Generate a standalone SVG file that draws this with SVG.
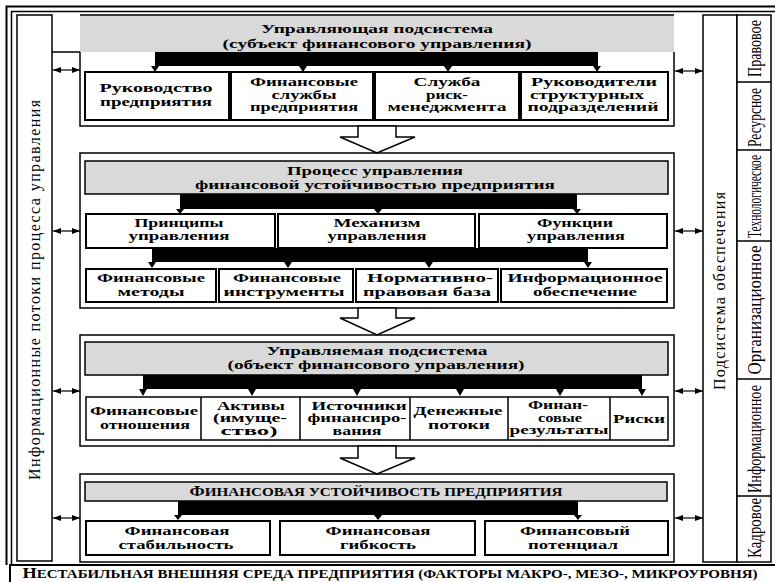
<svg xmlns="http://www.w3.org/2000/svg" width="775" height="582" viewBox="0 0 775 582">
<style>
.t{font-family:"Liberation Serif","Times New Roman",serif;font-weight:bold;font-size:13.5px;text-anchor:middle;fill:#000}
.s{font-size:12.5px}
.v{font-family:"Liberation Serif","Times New Roman",serif;font-size:16px;text-anchor:middle;fill:#000}
.c{font-family:"Liberation Serif","Times New Roman",serif;font-size:18px;text-anchor:middle;fill:#000}
.box{fill:#fff;stroke:#000;stroke-width:2}
.thin{fill:#fff;stroke:#000;stroke-width:1.5}
.hdr{fill:#d9d9d9;stroke:#000;stroke-width:1.5}
.ln{fill:none;stroke:#000;stroke-width:1.5}
.bar{fill:#000}
.side{stroke:#000;stroke-width:1.2;marker-start:url(#ah);marker-end:url(#ah)}
.hol{fill:#fff;stroke:#000;stroke-width:1.5}
</style>
<defs>
<marker id="ah" viewBox="0 0 8 6" refX="8" refY="3" markerWidth="8" markerHeight="6" markerUnits="userSpaceOnUse" orient="auto-start-reverse"><path d="M0,0 L8,3 L0,6 z" fill="#000"/></marker>
</defs>
<rect width="775" height="582" fill="#fff"/>
<path d="M6.5,565 V6.5 H775" fill="none" stroke="#000" stroke-width="2"/>
<path d="M11.5,565 V11.5 H775" fill="none" stroke="#000" stroke-width="1.5"/>

<g id="left-column">
<rect x="17" y="15" width="35" height="546" class="thin"/>
<text class="v" x="40" y="290" transform="rotate(-90 40 290)" textLength="380" lengthAdjust="spacing">Информационные потоки процесса управления</text>
</g>

<g id="right-column">
<rect x="703" y="15" width="34" height="547" class="thin"/>
<text class="v" x="725" y="291" transform="rotate(-90 725 291)" textLength="198" lengthAdjust="spacing">Подсистема обеспечения</text>
</g>

<g id="support-types">
<rect x="737" y="15" width="34" height="547" class="thin"/>
<path d="M737,82 H771 M737,150 H771 M737,241 H771 M737,379 H771 M737,496 H771" class="ln"/>
<text class="c" x="761" y="48.5" transform="rotate(-90 761 48.5)" textLength="57" lengthAdjust="spacingAndGlyphs">Правовое</text>
<text class="c" x="761" y="117.5" transform="rotate(-90 761 117.5)" textLength="59" lengthAdjust="spacingAndGlyphs">Ресурсное</text>
<text class="c" x="761" y="196.5" transform="rotate(-90 761 196.5)" textLength="83" lengthAdjust="spacingAndGlyphs">Технологическое</text>
<text class="c" x="761" y="310" transform="rotate(-90 761 310)" textLength="129" lengthAdjust="spacingAndGlyphs">Организационное</text>
<text class="c" x="761" y="439" transform="rotate(-90 761 439)" textLength="108" lengthAdjust="spacingAndGlyphs">Информационное</text>
<text class="c" x="761" y="528" transform="rotate(-90 761 528)" textLength="60" lengthAdjust="spacingAndGlyphs">Кадровое</text>
</g>

<g id="sec1">
<rect x="80" y="15" width="594" height="37" fill="#d9d9d9"/>
<path d="M80,15 H674 M80,52 V126 H674 V52" class="ln"/>
<text class="t" x="377" y="33" textLength="232" lengthAdjust="spacingAndGlyphs">Управляющая подсистема</text>
<text class="t" x="377" y="47.5" textLength="309" lengthAdjust="spacingAndGlyphs">(субъект финансового управления)</text>
</g>
<g id="s1-box1"><rect x="85" y="72" width="144" height="48" class="box"/>
<text class="t s" x="156" y="91.5" textLength="113" lengthAdjust="spacingAndGlyphs">Руководство</text>
<text class="t s" x="156" y="105.5" textLength="112" lengthAdjust="spacingAndGlyphs">предприятия</text></g>
<g id="s1-box2"><rect x="231" y="72" width="142" height="48" class="box"/>
<text class="t s" x="304" y="86" textLength="108" lengthAdjust="spacingAndGlyphs">Финансовые</text>
<text class="t s" x="304" y="98.5" textLength="65" lengthAdjust="spacingAndGlyphs">службы</text>
<text class="t s" x="304" y="111" textLength="108" lengthAdjust="spacingAndGlyphs">предприятия</text></g>
<g id="s1-box3"><rect x="375" y="72" width="144" height="48" class="box"/>
<text class="t s" x="447" y="86" textLength="67" lengthAdjust="spacingAndGlyphs">Служба</text>
<text class="t s" x="447" y="98.5" textLength="42" lengthAdjust="spacingAndGlyphs">риск-</text>
<text class="t s" x="447" y="111" textLength="119" lengthAdjust="spacingAndGlyphs">менеджмента</text></g>
<g id="s1-box4"><rect x="521" y="72" width="147" height="48" class="box"/>
<text class="t s" x="594" y="86" textLength="126" lengthAdjust="spacingAndGlyphs">Руководители</text>
<text class="t s" x="587" y="98.5" textLength="114" lengthAdjust="spacingAndGlyphs">структурных</text>
<text class="t s" x="593" y="111" textLength="131" lengthAdjust="spacingAndGlyphs">подразделений</text></g>

<g id="sec2">
<rect x="80" y="153" width="594" height="155" class="ln"/>
<rect x="85" y="161" width="583" height="33" class="hdr"/>
<text class="t" x="375" y="175" textLength="176" lengthAdjust="spacingAndGlyphs">Процесс управления</text>
<text class="t" x="375" y="188.5" textLength="360" lengthAdjust="spacingAndGlyphs">финансовой устойчивостью предприятия</text>
</g>
<g id="s2-principles"><rect x="86" y="214" width="189" height="34" class="box"/>
<text class="t" x="179" y="226.5" textLength="89" lengthAdjust="spacingAndGlyphs">Принципы</text>
<text class="t" x="179" y="240" textLength="101" lengthAdjust="spacingAndGlyphs">управления</text></g>
<g id="s2-mechanism"><rect x="278" y="214" width="197" height="34" class="box"/>
<text class="t" x="377" y="226.5" textLength="87" lengthAdjust="spacingAndGlyphs">Механизм</text>
<text class="t" x="377" y="240" textLength="99" lengthAdjust="spacingAndGlyphs">управления</text></g>
<g id="s2-functions"><rect x="479" y="214" width="188" height="34" class="box"/>
<text class="t" x="575" y="226.5" textLength="76" lengthAdjust="spacingAndGlyphs">Функции</text>
<text class="t" x="576" y="240" textLength="98" lengthAdjust="spacingAndGlyphs">управления</text></g>
<g id="s2-methods"><rect x="86" y="269" width="130" height="33" class="box"/>
<text class="t" x="151" y="282" textLength="108" lengthAdjust="spacingAndGlyphs">Финансовые</text>
<text class="t" x="151" y="295.5" textLength="67" lengthAdjust="spacingAndGlyphs">методы</text></g>
<g id="s2-instruments"><rect x="219" y="269" width="134" height="33" class="box"/>
<text class="t" x="287" y="282" textLength="108" lengthAdjust="spacingAndGlyphs">Финансовые</text>
<text class="t" x="284" y="295.5" textLength="121" lengthAdjust="spacingAndGlyphs">инструменты</text></g>
<g id="s2-legal"><rect x="356" y="269" width="142" height="33" class="box"/>
<text class="t" x="430" y="282" textLength="126" lengthAdjust="spacingAndGlyphs">Нормативно-</text>
<text class="t" x="427" y="295.5" textLength="128" lengthAdjust="spacingAndGlyphs">правовая база</text></g>
<g id="s2-info"><rect x="501" y="269" width="166" height="33" class="box"/>
<text class="t" x="585" y="282" textLength="155" lengthAdjust="spacingAndGlyphs">Информационное</text>
<text class="t" x="585" y="295.5" textLength="104" lengthAdjust="spacingAndGlyphs">обеспечение</text></g>

<g id="sec3">
<rect x="80" y="335" width="594" height="111" class="ln"/>
<rect x="85" y="342" width="583" height="33" class="hdr"/>
<text class="t" x="377" y="355" textLength="221" lengthAdjust="spacingAndGlyphs">Управляемая подсистема</text>
<text class="t" x="376" y="369" textLength="297" lengthAdjust="spacingAndGlyphs">(объект финансового управления)</text>
</g>
<g id="s3-row">
<rect x="86" y="397" width="582" height="43" class="thin"/>
<path d="M201,397 V440 M300,397 V440 M410,397 V440 M508,397 V440 M610,397 V440" class="ln"/>
</g>
<g id="s3-relations">
<text class="t s" x="144" y="415" textLength="108" lengthAdjust="spacingAndGlyphs">Финансовые</text>
<text class="t s" x="145" y="428.5" textLength="90" lengthAdjust="spacingAndGlyphs">отношения</text></g>
<g id="s3-assets">
<text class="t s" x="251" y="409.5" textLength="68" lengthAdjust="spacingAndGlyphs">Активы</text>
<text class="t s" x="250" y="422" textLength="74" lengthAdjust="spacingAndGlyphs">(имуще-</text>
<text class="t s" x="249" y="434.5" textLength="57" lengthAdjust="spacingAndGlyphs">ство)</text></g>
<g id="s3-sources">
<text class="t s" x="359" y="409.5" textLength="95" lengthAdjust="spacingAndGlyphs">Источники</text>
<text class="t s" x="357" y="422" textLength="99" lengthAdjust="spacingAndGlyphs">финансиро-</text>
<text class="t s" x="357" y="434.5" textLength="49" lengthAdjust="spacingAndGlyphs">вания</text></g>
<g id="s3-cashflows">
<text class="t s" x="458" y="415" textLength="89" lengthAdjust="spacingAndGlyphs">Денежные</text>
<text class="t s" x="459" y="428.5" textLength="62" lengthAdjust="spacingAndGlyphs">потоки</text></g>
<g id="s3-results">
<text class="t s" x="558" y="409" textLength="60" lengthAdjust="spacingAndGlyphs">Финан-</text>
<text class="t s" x="560" y="421.5" textLength="44" lengthAdjust="spacingAndGlyphs">совые</text>
<text class="t s" x="559" y="434" textLength="99" lengthAdjust="spacingAndGlyphs">результаты</text></g>
<g id="s3-risks">
<text class="t s" x="639" y="422.5" textLength="52" lengthAdjust="spacingAndGlyphs">Риски</text></g>

<g id="sec4">
<rect x="80" y="474" width="594" height="88" class="ln"/>
<rect x="85" y="482" width="582" height="19" class="hdr"/>
<text class="t" x="376" y="495.5" textLength="373" lengthAdjust="spacingAndGlyphs"><tspan font-size="14">Ф</tspan><tspan font-size="12">ИНАНСОВАЯ УСТОЙЧИВОСТЬ ПРЕДПРИЯТИЯ</tspan></text>
</g>
<g id="s4-stability"><rect x="86" y="521" width="184" height="34" class="box"/>
<text class="t" x="177" y="535" textLength="105" lengthAdjust="spacingAndGlyphs">Финансовая</text>
<text class="t" x="176" y="549" textLength="115" lengthAdjust="spacingAndGlyphs">стабильность</text></g>
<g id="s4-flexibility"><rect x="280" y="521" width="195" height="34" class="box"/>
<text class="t" x="378" y="535" textLength="105" lengthAdjust="spacingAndGlyphs">Финансовая</text>
<text class="t" x="378" y="549" textLength="76" lengthAdjust="spacingAndGlyphs">гибкость</text></g>
<g id="s4-potential"><rect x="485" y="521" width="183" height="34" class="box"/>
<text class="t" x="575" y="535" textLength="110" lengthAdjust="spacingAndGlyphs">Финансовый</text>
<text class="t" x="573" y="549" textLength="90" lengthAdjust="spacingAndGlyphs">потенциал</text></g>

<g id="environment">
<rect x="10" y="565" width="770" height="22" fill="#fff" stroke="#000" stroke-width="2"/>
<text class="t" x="390" y="578" textLength="735" lengthAdjust="spacingAndGlyphs"><tspan font-size="14">Н</tspan><tspan font-size="11.5">ЕСТАБИЛЬНАЯ ВНЕШНЯЯ СРЕДА ПРЕДПРИЯТИЯ (ФАКТОРЫ МАКРО-, МЕЗО-, МИКРОУРОВНЯ)</tspan></text>
</g>

<g id="connectors">
<path d="M52,52 H80" class="ln"/>
<line x1="53" y1="70" x2="80" y2="70" class="side"/>
<line x1="53" y1="231" x2="80" y2="231" class="side"/>
<line x1="53" y1="391" x2="80" y2="391" class="side"/>
<line x1="53" y1="518" x2="80" y2="518" class="side"/>
<line x1="675" y1="71" x2="703" y2="71" class="side"/>
<line x1="675" y1="231" x2="703" y2="231" class="side"/>
<line x1="675" y1="391" x2="703" y2="391" class="side"/>
<line x1="675" y1="518" x2="703" y2="518" class="side"/>
<rect x="155" y="52" width="443" height="14" class="bar"/>
<path class="bar" d="M151,66 h8 l-4,6 z M299,66 h8 l-4,6 z M444,66 h8 l-4,6 z M593,66 h8 l-4,6 z"/>
<rect x="180" y="194" width="397" height="15" class="bar"/>
<path class="bar" d="M176,209 h8 l-4,5 z M374,209 h8 l-4,5 z M573,209 h8 l-4,5 z"/>
<rect x="152" y="248" width="436" height="14" class="bar"/>
<path class="bar" d="M148,262 h8 l-4,6 z M284,262 h8 l-4,6 z M425,262 h8 l-4,6 z M584,262 h8 l-4,6 z"/>
<rect x="143" y="375" width="499" height="14" class="bar"/>
<path class="bar" d="M139,389 h8 l-4,7 z M248,389 h8 l-4,7 z M353,389 h8 l-4,7 z M456,389 h8 l-4,7 z M556,389 h8 l-4,7 z M638,389 h8 l-4,7 z"/>
<rect x="178" y="501" width="400" height="14" class="bar"/>
<path class="bar" d="M174,515 h8 l-4,5 z M374,515 h8 l-4,5 z M574,515 h8 l-4,5 z"/>
<polygon class="hol" points="358,126 358,137 340,137 377,153 415,137 396,137 396,126"/>
<polygon class="hol" points="358,308 358,318 340,318 377,335 415,318 396,318 396,308"/>
<polygon class="hol" points="358,446 358,458 340,458 377,474 415,458 396,458 396,446"/>
</g>
</svg>
